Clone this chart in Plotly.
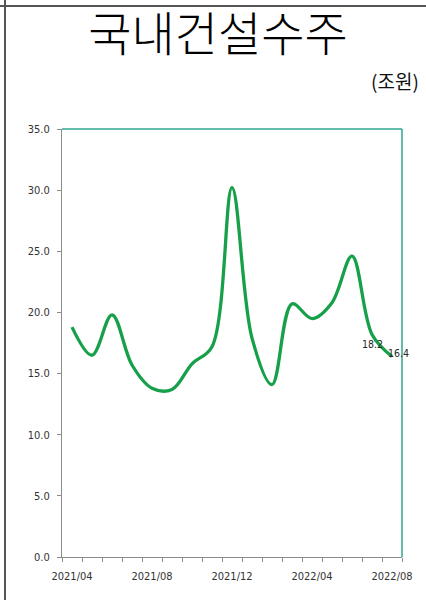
import plotly.graph_objects as go

# Monthly domestic construction orders (trillion won)
months = ["2021/04", "2021/05", "2021/06", "2021/07", "2021/08", "2021/09",
          "2021/10", "2021/11", "2021/12", "2022/01", "2022/02", "2022/03",
          "2022/04", "2022/05", "2022/06", "2022/07", "2022/08"]
orders = [18.8, 16.5, 19.8, 15.7, 13.8, 13.7, 15.8, 17.2, 30.2, 17.9,
          14.1, 20.7, 19.5, 20.8, 24.6, 18.2, 16.4]
labeled_months = ["2021/04", "2021/08", "2021/12", "2022/04", "2022/08"]
value_labels = {"2022/07": (0, -10), "2022/08": (6, 3)}

W, H = 426, 600
L, R, T, B = 62, 24, 129, 43
pw, ph = W - L - R, H - T - B

idx = list(range(len(months)))
tick_idx = [months.index(m) for m in labeled_months]

fig = go.Figure()
fig.add_trace(go.Scatter(
    x=idx, y=orders, mode="lines",
    line=dict(color="#17a04a", width=3.3, shape="spline", smoothing=1.0),
    hoverinfo="skip", showlegend=False,
))

annotations = []
for m, (dx, dy) in value_labels.items():
    i = months.index(m)
    annotations.append(dict(
        x=i, y=orders[i], xref="x", yref="y", text=f"{orders[i]:.1f}",
        showarrow=False, xshift=dx, yshift=dy,
        font=dict(family="DejaVu Sans Condensed, DejaVu Sans", size=10.5,
                  color="#262626"),
    ))

# unit label
annotations.append(dict(
    x=(421 - L) / pw, y=1 + (T - 80) / ph, xref="paper", yref="paper",
    xanchor="right", yanchor="middle", text="(조원)", showarrow=False,
    font=dict(family="Noto Sans CJK KR", size=19, color="#111111"),
))


def px_x(p):
    return (p - L) / pw


def px_y(p):
    return 1 - (p - T) / ph


shapes = [
    # outer frame lines
    dict(type="line", xref="paper", yref="paper", x0=px_x(0), x1=px_x(W),
         y0=px_y(6), y1=px_y(6), line=dict(color="#555555", width=2)),
    dict(type="line", xref="paper", yref="paper", x0=px_x(5), x1=px_x(5),
         y0=px_y(0), y1=px_y(H), line=dict(color="#555555", width=2)),
    # teal top and right edges of the plot area
    dict(type="line", xref="paper", yref="paper", x0=0, x1=1, y0=1, y1=1,
         line=dict(color="#2fa58c", width=1.5)),
    dict(type="line", xref="paper", yref="paper", x0=1, x1=1, y0=0, y1=1,
         line=dict(color="#2fa58c", width=1.5)),
]

tick_font = dict(family="DejaVu Sans Condensed, DejaVu Sans", size=11,
                 color="#333333")

fig.update_layout(
    width=W, height=H,
    margin=dict(l=L, r=R, t=T, b=B, pad=0),
    paper_bgcolor="white", plot_bgcolor="white",
    title=dict(text="국내건설수주", x=218 / W, y=1 - 35 / H,
               xanchor="center", yanchor="middle",
               font=dict(family="Noto Sans CJK KR", size=47, color="#000000",
                         weight=300)),
    annotations=annotations,
    shapes=shapes,
    xaxis=dict(
        range=[-0.5, len(months) - 0.5], showgrid=False, zeroline=False,
        showline=True, linecolor="#8c8c8c", linewidth=1,
        tickvals=tick_idx, ticktext=labeled_months, ticks="",
        tickfont=tick_font, ticklabelstandoff=9,
        minor=dict(tickvals=[i - 0.5 for i in range(len(months) + 1)],
                   ticks="outside", ticklen=4, tickcolor="#8c8c8c",
                   showgrid=False),
    ),
    yaxis=dict(
        range=[0, 35], dtick=5, tickformat=".1f", showgrid=False,
        zeroline=False, showline=True, linecolor="#8c8c8c", linewidth=1,
        ticks="outside", ticklen=4, tickcolor="#8c8c8c",
        tickfont=tick_font, ticklabelstandoff=5,
    ),
)

fig.write_html("out.html")
